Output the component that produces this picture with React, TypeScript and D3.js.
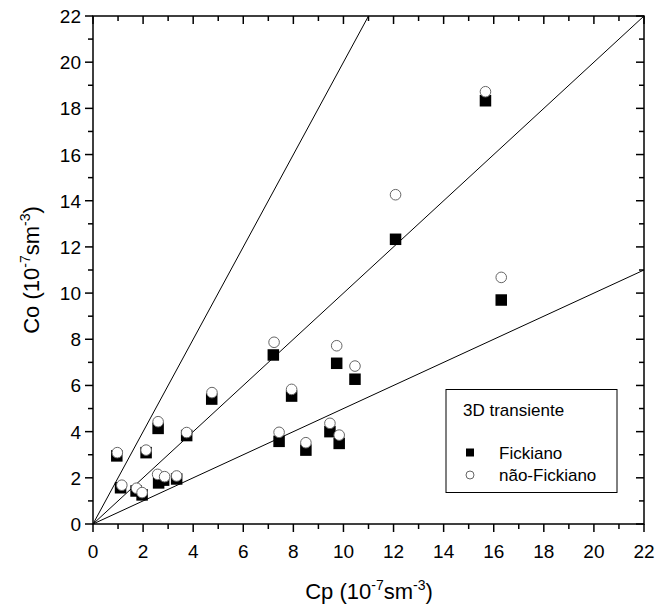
import React from "react";
import * as d3 from "d3";

const fickX = [0.95, 1.1, 1.72, 1.96, 2.12, 2.6, 2.62, 2.82, 3.34, 3.74, 4.74, 7.2, 7.43, 7.93, 8.5, 9.46, 9.73, 9.83, 10.46, 12.08, 15.67, 16.3];
const fickY = [2.95, 1.57, 1.43, 1.26, 3.09, 4.14, 1.78, 1.9, 1.95, 3.83, 5.41, 7.32, 3.58, 5.54, 3.2, 4.0, 6.96, 3.49, 6.27, 12.33, 18.33, 9.7];
const naoX = [0.97, 1.15, 1.74, 1.96, 2.12, 2.6, 2.58, 2.86, 3.34, 3.74, 4.75, 7.23, 7.43, 7.93, 8.5, 9.46, 9.73, 9.83, 10.46, 12.08, 15.67, 16.3];
const naoY = [3.09, 1.68, 1.55, 1.36, 3.2, 4.43, 2.15, 2.05, 2.08, 3.96, 5.69, 7.87, 3.97, 5.83, 3.52, 4.36, 7.72, 3.85, 6.84, 14.26, 18.72, 10.68];
const slopes = [2, 1, 0.5];
const ticks = [0, 2, 4, 6, 8, 10, 12, 14, 16, 18, 20, 22];
const minorTicks = [1, 3, 5, 7, 9, 11, 13, 15, 17, 19, 21];
const legendTitle = "3D transiente";
const seriesNames = ["Fickiano", "não-Fickiano"];

const W = 656, H = 609;
const L = 93, R = 644, T = 16, B = 524;
const FONT = "Arial, 'Liberation Sans', sans-serif";

export default function App() {
  const x = d3.scaleLinear().domain([0, 22]).range([L, R]);
  const y = d3.scaleLinear().domain([0, 22]).range([B, T]);
  const sq = 11.5;
  const cr = 5.3;

  const linePath = (s: number) => {
    const xEnd = Math.min(22, 22 / s);
    return d3.line<[number, number]>().x(d => x(d[0])).y(d => y(d[1]))([[0, 0], [xEnd, xEnd * s]]) || "";
  };

  return (
    <svg width={W} height={H} style={{ position: "absolute", left: 0, top: 0, background: "#fff" }} fontFamily={FONT}>
      <rect x={0} y={0} width={W} height={H} fill="#fff" />
      {slopes.map((s, i) => (
        <path key={i} d={linePath(s)} stroke="#000" strokeWidth={1} fill="none" />
      ))}
      {fickX.map((v, i) => (
        <rect key={"f" + i} x={x(v) - sq / 2} y={y(fickY[i]) - sq / 2} width={sq} height={sq} fill="#000" />
      ))}
      {naoX.map((v, i) => (
        <circle key={"n" + i} cx={x(v)} cy={y(naoY[i])} r={cr} fill="#fff" stroke="#666" strokeWidth={1} />
      ))}
      <rect x={L} y={T} width={R - L} height={B - T} fill="none" stroke="#000" strokeWidth={1.5} />
      {ticks.map(t => (
        <g key={"bx" + t}>
          <line x1={x(t)} x2={x(t)} y1={B} y2={B + 8} stroke="#000" strokeWidth={1.5} />
          <line x1={x(t)} x2={x(t)} y1={T} y2={T + 8} stroke="#000" strokeWidth={1.5} />
          <text x={x(t)} y={B + 34} textAnchor="middle" fontSize={19}>{t}</text>
        </g>
      ))}
      {minorTicks.map(t => (
        <g key={"mx" + t}>
          <line x1={x(t)} x2={x(t)} y1={B} y2={B + 5} stroke="#000" strokeWidth={1.5} />
          <line x1={x(t)} x2={x(t)} y1={T} y2={T + 5} stroke="#000" strokeWidth={1.5} />
        </g>
      ))}
      {ticks.map(t => (
        <g key={"ly" + t}>
          <line x1={L - 8} x2={L} y1={y(t)} y2={y(t)} stroke="#000" strokeWidth={1.5} />
          <line x1={R - 8} x2={R} y1={y(t)} y2={y(t)} stroke="#000" strokeWidth={1.5} />
          <text x={L - 12} y={y(t) + 7} textAnchor="end" fontSize={19}>{t}</text>
        </g>
      ))}
      {minorTicks.map(t => (
        <g key={"my" + t}>
          <line x1={L - 5} x2={L} y1={y(t)} y2={y(t)} stroke="#000" strokeWidth={1.5} />
          <line x1={R - 5} x2={R} y1={y(t)} y2={y(t)} stroke="#000" strokeWidth={1.5} />
        </g>
      ))}
      <text x={369} y={599} textAnchor="middle" fontSize={22}>
        Cp (10<tspan dy={-9} fontSize={14}>-7</tspan><tspan dy={9}>sm</tspan><tspan dy={-9} fontSize={14}>-3</tspan><tspan dy={9}>)</tspan>
      </text>
      <text transform={`translate(39, ${(T + B) / 2}) rotate(-90)`} textAnchor="middle" fontSize={22}>
        Co (10<tspan dy={-9} fontSize={14}>-7</tspan><tspan dy={9}>sm</tspan><tspan dy={-9} fontSize={14}>-3</tspan><tspan dy={9}>)</tspan>
      </text>
      <rect x={446} y={389.5} width={171} height={103} fill="#fff" stroke="#000" strokeWidth={1} />
      <text x={463} y={416} fontSize={17}>{legendTitle}</text>
      <rect x={466} y={448.5} width={8} height={8} fill="#000" />
      <text x={499} y={459} fontSize={17}>{seriesNames[0]}</text>
      <circle cx={470} cy={475} r={4} fill="#fff" stroke="#666" strokeWidth={1} />
      <text x={499} y={481} fontSize={17}>{seriesNames[1]}</text>
    </svg>
  );
}
